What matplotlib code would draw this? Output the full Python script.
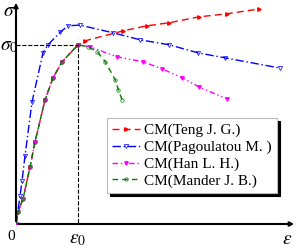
import matplotlib.pyplot as plt

plt.rcParams["font.family"] = ["Liberation Serif", "DejaVu Serif"]
plt.rcParams["mathtext.fontset"] = "stix"

# strain (eps/eps0) and stress (sigma/sigma0)
rise_eps = [0.0, 0.032, 0.113, 0.226, 0.306, 0.468, 0.597, 0.742, 1.0]
rise_sig = [0.0, 0.067, 0.14, 0.318, 0.458, 0.693, 0.816, 0.905, 1.0]

teng_eps = rise_eps + [1.11, 1.73, 2.11, 2.47, 2.95, 3.40, 3.92]
teng_sig = rise_sig + [1.022, 1.078, 1.106, 1.123, 1.156, 1.173, 1.20]

pago_eps = [0.0, 0.065, 0.097, 0.145, 0.258, 0.435, 0.516, 0.71, 0.84, 1.03,
            1.565, 2.0, 2.47, 2.935, 3.37, 4.26]
pago_sig = [0.0, 0.156, 0.24, 0.38, 0.68, 0.955, 1.0, 1.07, 1.106, 1.11,
            1.067, 1.028, 1.0, 0.955, 0.927, 0.87]

han_eps = rise_eps + [1.19, 1.63, 2.05, 2.35, 2.68, 2.95, 3.40]
han_sig = rise_sig + [0.989, 0.933, 0.905, 0.866, 0.816, 0.765, 0.698]

mander_eps = rise_eps + [1.16, 1.31, 1.44, 1.60, 1.65, 1.71]
mander_sig = rise_sig + [0.989, 0.961, 0.905, 0.804, 0.749, 0.693]

fig = plt.figure(figsize=(2.97, 2.48), dpi=100)
ax = fig.add_axes([16 / 297, 24 / 248, 281 / 297, 224 / 248])
ax.set_xlim(0, 4.53)
ax.set_ylim(0, 1.25)
ax.axis("off")

ax.plot(teng_eps, teng_sig, color="red", ls=(0, (5, 3)), lw=1,
        marker=">", ms=2.5, label="CM(Teng J. G.)")
ax.plot(pago_eps, pago_sig, color="blue", ls=(0, (6, 2, 1, 2)), lw=1,
        marker="v", ms=3, mfc="none", mew=0.5, label="CM(Pagoulatou M. )")
ax.plot(han_eps, han_sig, color="magenta", ls=(0, (4, 2, 1, 2, 1, 2)), lw=1,
        marker="v", ms=2.5, label="CM(Han L. H.)")
ax.plot(mander_eps, mander_sig, color="green", ls=(0, (4, 3)), lw=1,
        marker="o", ms=2.5, mfc="none", mew=0.5, label="CM(Mander J. B.)")

ax.plot([0, 1, 1], [1, 1, 0], color="black", ls="--", lw=0.8)

arrow = dict(arrowstyle="-|>", color="black", lw=1.5, mutation_scale=6)
ax.annotate("", xy=(1.0, 0), xytext=(0, 0), xycoords="axes fraction",
            arrowprops=arrow)
ax.annotate("", xy=(0, 1.0), xytext=(0, 0), xycoords="axes fraction",
            arrowprops=arrow)

fig.text(3 / 297, 1 - 12 / 248, r"$\sigma$", fontsize=14, va="center")
fig.text(0, 1 - 46 / 248, r"$\sigma_0$", fontsize=14, va="center")
fig.text(11 / 297, 1 - 236 / 248, "0", fontsize=11, va="center", ha="center")
fig.text(78 / 297, 1 - 239 / 248, r"$\varepsilon_0$", fontsize=14,
         va="center", ha="center")
fig.text(287 / 297, 1 - 239 / 248, r"$\varepsilon$", fontsize=14,
         va="center", ha="center")

leg = fig.legend(loc="upper left", bbox_to_anchor=(107 / 297, 1 - 118 / 248),
                 fontsize=11, handlelength=1.8, handletextpad=0.3,
                 labelspacing=0.2, borderpad=0.35, borderaxespad=0,
                 fancybox=False, framealpha=1,
                 shadow={"color": "black", "alpha": 1})
leg.get_frame().set_edgecolor("#bbbbbb")
leg.get_frame().set_linewidth(0.8)

fig.savefig("out.png", dpi=100)
